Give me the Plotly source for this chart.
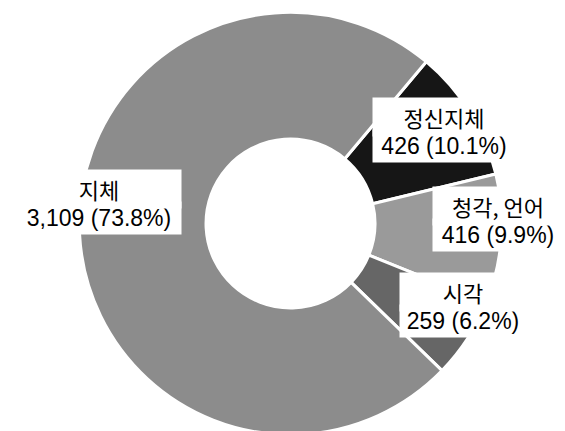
import plotly.graph_objects as go

labels = ["정신지체", "청각, 언어", "시각", "지체"]
values = [426, 416, 259, 3109]
percent_text = ["10.1%", "9.9%", "6.2%", "73.8%"]
colors = ["#161616", "#9a9a9a", "#666666", "#8c8c8c"]

# label positions in picture pixels (name line / value line centres) and box widths
name_px = [(436, 109), (490, 198), (455, 284), (91, 181)]
value_px = [(436, 138), (490, 227), (455, 313), (91, 210)]
box_w = [136, 124, 120, 158]

W, H = 565, 431

fig = go.Figure()
fig.add_trace(go.Pie(
    labels=labels,
    values=values,
    sort=False,
    direction="clockwise",
    rotation=40,
    hole=0.4,
    marker=dict(colors=colors, line=dict(color="white", width=3)),
    textinfo="none",
    showlegend=False,
    domain=dict(x=[0, 1], y=[0.01, 0.99]),
))

for lab, v, p, (nx, ny), (vx, vy), bw in zip(labels, values, percent_text, name_px, value_px, box_w):
    fig.add_annotation(
        x=vx / W, y=1 - vy / H, xref="paper", yref="paper",
        text=f"{v:,} ({p})",
        showarrow=False, xanchor="center", yanchor="middle",
        width=bw, align="center",
        bgcolor="white", borderpad=3,
        font=dict(family="Liberation Sans, Arial, sans-serif", size=23, color="black"),
    )
    fig.add_annotation(
        x=nx / W, y=1 - ny / H, xref="paper", yref="paper",
        text=lab,
        showarrow=False, xanchor="center", yanchor="middle",
        width=bw, align="center",
        bgcolor="white", borderpad=3,
        font=dict(family="Noto Sans CJK KR, sans-serif", size=22, color="black"),
    )

fig.update_layout(
    width=W, height=H,
    margin=dict(l=0, r=0, t=0, b=0),
    paper_bgcolor="white",
    plot_bgcolor="white",
)

fig.write_html("out.html")
